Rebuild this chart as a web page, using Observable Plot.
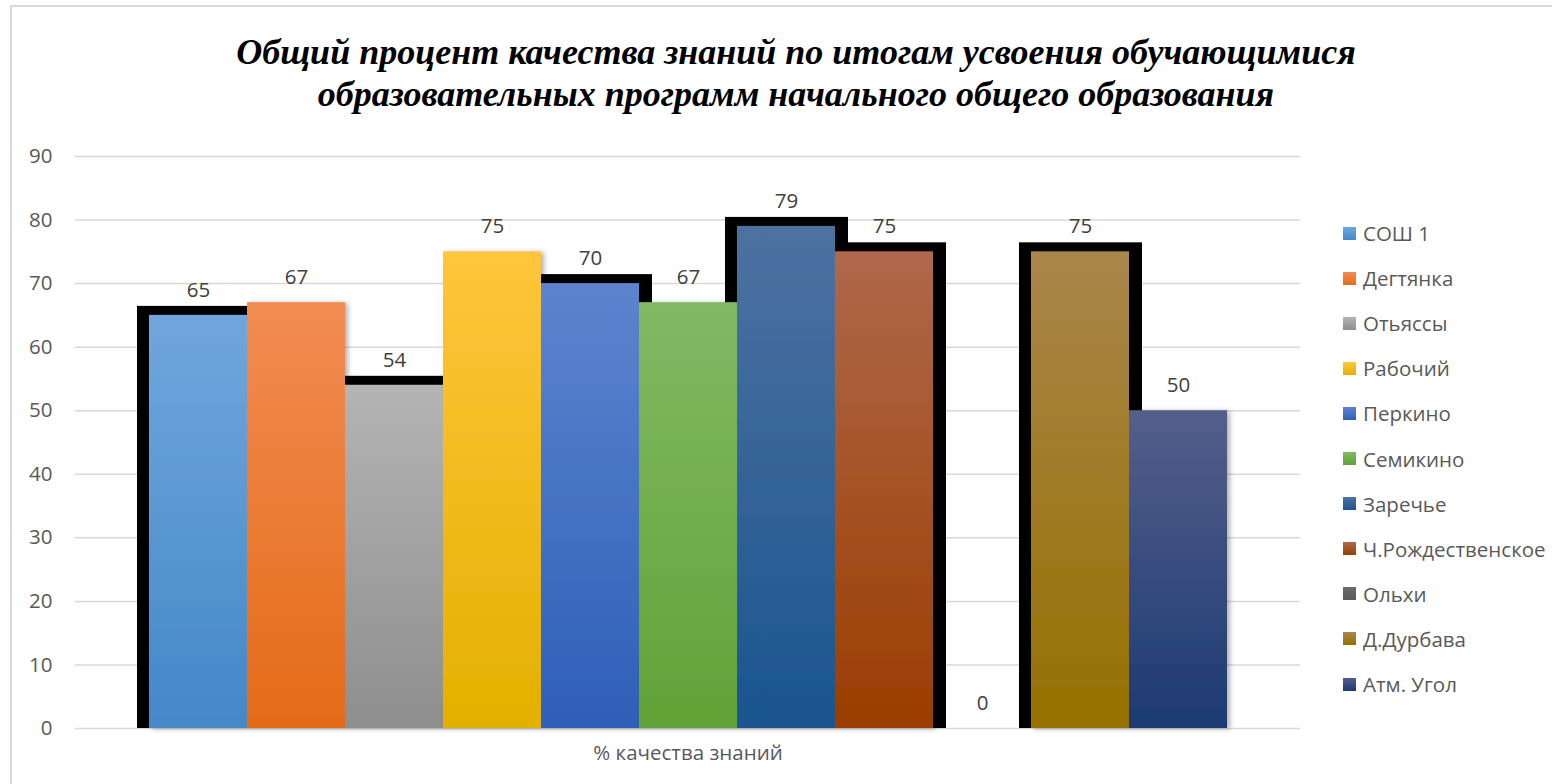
<!DOCTYPE html>
<html><head><meta charset="utf-8">
<script src="https://cdn.jsdelivr.net/npm/d3@7"></script>
<script src="https://cdn.jsdelivr.net/npm/@observablehq/plot@0.6"></script>
<style>
body{margin:0;background:#fff;width:1552px;height:784px;overflow:hidden;position:relative;font-family:"Open Sans",sans-serif}
#frame{position:absolute;left:10px;top:5px;width:1700px;height:900px;border:2px solid #d9d9d9;box-sizing:border-box}
.tline{position:absolute;left:0;width:1592px;text-align:center;font-family:"Liberation Serif",serif;font-style:italic;font-weight:bold;font-size:36px;line-height:42px;color:#000;white-space:nowrap}
#chart{position:absolute;left:0;top:140px}
#legend{position:absolute;left:1343px;top:0}
.li{position:absolute;left:0;height:26px;display:flex;align-items:center;white-space:nowrap;font-size:20.5px;color:#595959}
.sw{width:13px;height:13px;margin-right:7px}
</style></head>
<body>
<div id="frame"></div>
<div class="tline" id="t1" style="top:31px"></div>
<div class="tline" id="t2" style="top:73px"></div>
<div id="chart"></div>
<div id="legend"></div>
<script>
const titleLines = ["Общий процент качества знаний по итогам усвоения обучающимися", "образовательных программ начального общего образования"];
const schools = ["СОШ 1","Дегтянка","Отьяссы","Рабочий","Перкино","Семикино","Заречье","Ч.Рождественское","Ольхи","Д.Дурбава","Атм. Угол"];
const values = [65,67,54,75,70,67,79,75,0,75,50];
const shadowed = ["СОШ 1","Отьяссы","Перкино","Заречье","Ч.Рождественское","Д.Дурбава"];
const topColors = ["#70a6dd","#f28c52","#b4b4b4","#ffc63c","#5c84ce","#82b964","#4d72a1","#af684b","#6a6a6a","#a9864b","#545f8b"];
const bottomColors = ["#4488c8","#e46b18","#8e8e8e","#e3b000","#2e5fb8","#62a237","#1a558f","#9b3d00","#5a5a5a","#967000","#1c3a72"];
const category = ["% качества знаний"];
const yTicks = [0,10,20,30,40,50,60,70,80,90];

document.getElementById("t1").textContent = titleLines[0];
document.getElementById("t2").textContent = titleLines[1];

const data = schools.map((s,i)=>({school:s, value:values[i]}));
const shadowData = data.filter(d=>shadowed.includes(d.school));
const gradIds = schools.map((s,i)=>`grad${i}`);

const plot = Plot.plot({
  width:1552, height:644,
  marginTop:16, marginBottom:56, marginLeft:75, marginRight:252,
  style:{fontFamily:"'Open Sans', sans-serif", fontSize:"20.5px", background:"transparent"},
  x:{domain:schools, padding:0, insetLeft:73, insetRight:72, axis:null},
  y:{domain:[0,90], axis:null},
  color:{domain:schools, range:gradIds.map(id=>`url(#${id})`)},
  marks:[
    Plot.gridY(yTicks, {stroke:"#d9d9d9", strokeOpacity:1, strokeWidth:1.5}),
    Plot.axisY(yTicks, {tickSize:0, tickPadding:23, fontSize:20.5, fill:"#595959", label:null}),
    Plot.barY(shadowData, {x:"school", y:"value", fill:"#000", insetLeft:-12, insetRight:-13, insetTop:-9}),
    Plot.barY(data, {x:"school", y:"value", fill:"school"}),
    Plot.text(data, {x:"school", y:"value", text:d=>String(d.value), dy:-25, fill:"#404040", fontSize:20.5}),
    Plot.text(category, {frameAnchor:"bottom", text:d=>d, dy:31, fill:"#595959", fontSize:20.5})
  ]
});

const svg = d3.select(plot);
const defs = svg.insert("defs", ":first-child");
schools.forEach((s,i)=>{
  const g = defs.append("linearGradient").attr("id", gradIds[i]).attr("x1",0).attr("y1",0).attr("x2",0).attr("y2",1);
  g.append("stop").attr("offset","0%").attr("stop-color", topColors[i]);
  g.append("stop").attr("offset","100%").attr("stop-color", bottomColors[i]);
});
const f = defs.append("filter").attr("id","soft").attr("x","-10%").attr("y","-10%").attr("width","130%").attr("height","130%");
f.append("feDropShadow").attr("dx",3).attr("dy",1).attr("stdDeviation",2.5).attr("flood-color","#000").attr("flood-opacity",0.3);
const bars = svg.selectAll("g[aria-label='bar']").nodes();
d3.select(bars[bars.length-1]).attr("filter","url(#soft)");

document.getElementById("chart").appendChild(plot);

const legend = d3.select("#legend");
schools.forEach((s,i)=>{
  const row = legend.append("div").attr("class","li").style("top", (233 - 13 + i*45.1) + "px");
  row.append("div").attr("class","sw").style("background", `linear-gradient(${topColors[i]}, ${bottomColors[i]})`);
  row.append("span").text(s);
});
</script>
</body></html>
